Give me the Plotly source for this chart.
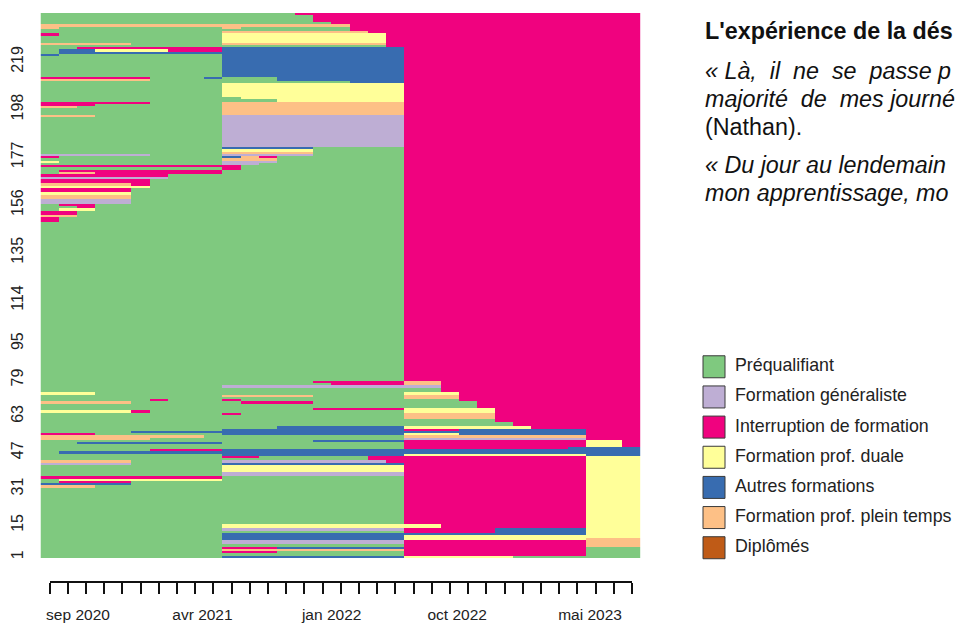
import plotly.graph_objects as go

W, H = 955, 623

STATE_CODES = ["G", "L", "I", "Y", "B", "O", "D"]
STATE_LABELS = ["Préqualifiant", "Formation généraliste", "Interruption de formation",
                "Formation prof. duale", "Autres formations",
                "Formation prof. plein temps", "Diplômés"]
STATE_COLORS = ["#7FC97F", "#BEAED4", "#F0027F", "#FFFF99", "#386CB0", "#FDC086", "#BF5B17"]

Y_TICKS = [1, 15, 31, 47, 63, 79, 95, 114, 135, 156, 177, 198, 219]
MONTH_LABELS = ["sep 2020", "avr 2021", "jan 2022", "oct 2022", "mai 2023"]
MONTH_LABEL_POS = [1.56, 8.4, 15.5, 22.4, 29.7]
N_MONTHS = 33
MONTH_TICKS = list(range(N_MONTHS))

# sequences from the top of the plot to the bottom: (number of identical rows, state runs)
SEQUENCES = [
    (1, "G14 I19"), (3, "G15 I18"), (1, "G16 I17"), (1, "O17 I16"), (1, "O1 G9 O1 G6 I16"),
    (1, "G17 I16"), (1, "G10 O8 I15"), (1, "I1 G9 Y9 I14"), (3, "G10 Y9 I14"),
    (1, "O5 G5 O9 I14"), (1, "G19 I14"), (1, "G2 I8 B10 I13"), (1, "G1 B2 Y4 I3 B10 I13"),
    (1, "G1 B19 I13"), (1, "B1 G9 B10 I13"), (9, "G10 B10 I13"), (1, "I6 G3 B1 G3 B7 I13"),
    (1, "O6 G7 B7 I13"), (1, "G17 B3 I13"), (6, "G10 Y10 I13"), (1, "G11 Y9 I13"),
    (1, "G13 Y7 I13"), (1, "I6 G4 O10 I13"), (1, "I3 G7 O10 I13"), (1, "O2 G8 O10 I13"),
    (3, "G10 O10 I13"), (1, "O3 G7 L10 I13"), (13, "G10 L10 I13"), (1, "G10 B5 G5 I13"),
    (1, "G10 Y5 G5 I13"), (1, "G10 O5 G5 I13"), (1, "L6 G4 L5 G5 I13"),
    (1, "I1 G9 B1 O1 I1 G7 I13"), (1, "G10 O3 G7 I13"), (1, "Y1 G9 L3 G7 I13"),
    (1, "G10 L2 G8 I13"), (1, "I11 G9 I13"), (1, "G10 I1 G9 I13"), (1, "G1 I9 G10 I13"),
    (1, "G1 O2 I7 G10 I13"), (1, "I7 G13 I13"), (1, "L7 G13 I13"), (2, "I6 G14 I13"),
    (1, "O5 I1 G14 I13"), (1, "Y6 G14 I13"), (2, "I5 G15 I13"), (1, "Y5 G15 I13"),
    (2, "O5 G15 I13"), (2, "L5 G15 I13"), (1, "G1 I2 G17 I13"), (1, "G2 I1 G17 I13"),
    (1, "G1 Y2 G17 I13"), (2, "I2 G18 I13"), (1, "O2 G18 I13"), (2, "I1 G19 I13"),
    (70, "G20 I13"),
    (1, "G15 I5 O2 I11"), (1, "G16 I4 O2 I11"), (1, "G10 L12 I11"), (2, "G22 I11"),
    (1, "Y3 G17 Y3 I10"), (1, "G10 O5 G5 O3 I10"), (1, "G20 O3 I10"),
    (1, "G6 I1 G3 I1 G12 I10"), (1, "O5 G6 I4 G9 I9"), (2, "G24 I9"), (1, "G15 I5 Y5 I8"),
    (1, "Y5 I1 G14 Y5 I8"), (1, "G10 I1 G9 O5 I8"), (2, "G20 O5 I8"), (1, "G25 I8"),
    (2, "G26 I7"), (1, "G13 B7 Y7 I6"), (1, "G10 B10 I3 B7 I3"), (1, "G5 B25 I3"),
    (1, "I3 G7 B10 Y3 B7 I3"), (1, "O9 G11 O10 I3"), (1, "O6 G14 L10 I3"),
    (1, "G15 B5 I10 Y2 I1"), (1, "G2 B8 G10 I10 Y2 I1"), (1, "G20 I10 Y2 I1"),
    (1, "G20 I9 B4"), (1, "G6 I4 B23"), (1, "G1 B32"), (1, "G10 B10 Y10 B3"),
    (1, "G10 I2 G6 I12 Y3"), (1, "G18 I12 Y3"), (1, "O5 G5 L9 I11 Y3"),
    (1, "L5 G5 B10 I10 Y3"), (3, "G10 Y10 I10 Y3"), (2, "G10 L10 I10 Y3"),
    (1, "I10 G10 I10 Y3"), (1, "G1 Y9 G10 I10 Y3"), (1, "G1 I4 G15 I10 Y3"),
    (1, "B5 G15 I10 Y3"), (1, "O3 G17 I10 Y3"), (16, "G20 I10 Y3"),
    (2, "G10 Y12 I8 Y3"), (1, "G10 L10 I5 B5 Y3"), (1, "G20 I5 B5 Y3"),
    (1, "G10 B20 Y3"), (1, "G10 B10 Y13"), (1, "G10 B10 Y10 O3"), (2, "G10 L10 I10 O3"),
    (1, "G20 I10 O3"), (1, "G10 I3 B7 I10 G3"), (1, "G10 O10 I10 G3"),
    (1, "G10 I3 G7 I10 G3"), (1, "G20 I10 G3"), (1, "G10 B10 Y6 G7"),
]

TEXT_LINES = [
    ("L'expérience de la dés", True),
    ("« Là,\u00a0 il\u00a0 ne\u00a0 se\u00a0 passe p", False),
    ("majorité\u00a0 de\u00a0 mes journé", False),
    ("(Nathan).", False),
    ("« Du jour au lendemain", False),
    ("mon apprentissage, mo", False),
]


def px(v):
    return v / W


def py(v):
    return 1 - v / H


rows_top_down = []
for count, spec in SEQUENCES:
    row = []
    for run in spec.split():
        row += [STATE_CODES.index(run[0])] * int(run[1:])
    assert len(row) == N_MONTHS, spec
    rows_top_down += [row] * count
assert len(rows_top_down) == 240, len(rows_top_down)
z = rows_top_down[::-1]
row_ids = list(range(1, len(z) + 1))

n = len(STATE_COLORS)
colorscale = []
for i, c in enumerate(STATE_COLORS):
    colorscale += [[i / n, c], [(i + 1) / n, c]]

sans = "Liberation Sans"

fig = go.Figure()
fig.add_trace(go.Heatmap(z=z, x=MONTH_TICKS, y=row_ids, zmin=0, zmax=n,
                         colorscale=colorscale, showscale=False,
                         xgap=0, ygap=0, hoverinfo="skip"))

# invisible carriers that keep the two lower time axes drawn
fig.add_trace(go.Scatter(x=MONTH_TICKS, y=[0] * N_MONTHS, mode="markers", xaxis="x2", yaxis="y2",
                         marker=dict(opacity=0), hoverinfo="skip", showlegend=False))
fig.add_trace(go.Scatter(x=MONTH_LABEL_POS, y=[0] * len(MONTH_LABEL_POS), mode="markers",
                         xaxis="x3", yaxis="y3", marker=dict(opacity=0),
                         hoverinfo="skip", showlegend=False))

# legend drawn as a small scatter panel (x axis of this panel counts pixels from its left edge)
fig.add_trace(go.Scatter(
    x=[11] * n, y=list(range(n)), mode="markers", xaxis="x4", yaxis="y4",
    marker=dict(symbol="square", size=22, color=STATE_COLORS,
                line=dict(color="#3a3a3a", width=1)),
    hoverinfo="skip", cliponaxis=False, showlegend=False))
fig.add_trace(go.Scatter(
    x=[32] * n, y=list(range(n)), mode="text", xaxis="x4", yaxis="y4",
    text=STATE_LABELS, textposition="middle right",
    textfont=dict(family=sans, size=17.8, color="#222222"),
    hoverinfo="skip", cliponaxis=False, showlegend=False))

fig.update_layout(
    template="none",
    width=W, height=H, autosize=False, margin=dict(l=0, r=0, t=0, b=0, autoexpand=False),
    paper_bgcolor="white", plot_bgcolor="white", showlegend=False,
    xaxis=dict(domain=[px(40.5), px(640.4)], range=[-0.5, 32.5], showgrid=False,
               zeroline=False, showticklabels=False, ticks="", anchor="y"),
    yaxis=dict(domain=[py(558.3), py(13)], range=[0.5, 240.5], showgrid=False,
               zeroline=False, tickmode="array", tickvals=Y_TICKS,
               ticktext=[str(t) for t in Y_TICKS], tickangle=-90, ticks="",
               ticklabelstandoff=13,
               tickfont=dict(family=sans, size=16, color="#222222"), anchor="x"),
    xaxis2=dict(domain=[px(49.6), px(631.9)], range=[0, 32], anchor="y2", showgrid=False,
                zeroline=False, tickmode="array", tickvals=MONTH_TICKS,
                showticklabels=False, ticks="outside", ticklen=11, tickwidth=1.6,
                tickcolor="#111111", showline=True, linecolor="#111111", linewidth=1.6),
    yaxis2=dict(domain=[py(581), py(577)], visible=False, anchor="x2"),
    xaxis3=dict(domain=[px(49.6), px(631.9)], range=[0, 32], anchor="y3", showgrid=False,
                zeroline=False, tickmode="array", tickvals=MONTH_LABEL_POS,
                ticktext=MONTH_LABELS, ticks="", showline=False,
                tickfont=dict(family=sans, size=15.5, color="#222222")),
    yaxis3=dict(domain=[py(603), py(599)], visible=False, anchor="x3"),
    xaxis4=dict(domain=[px(703), px(955)], range=[0, 252], visible=False, anchor="y4"),
    yaxis4=dict(domain=[py(562.8), py(351.7)], range=[6.5, -0.5], visible=False, anchor="x4"),
)

LINE_Y = [31, 71.5, 99.5, 127, 165, 193]
for (txt, bold), yy in zip(TEXT_LINES, LINE_Y):
    fig.add_annotation(
        x=px(703), y=py(yy), xref="paper", yref="paper", xanchor="left", yanchor="middle",
        showarrow=False, align="left",
        text=f"<b>{txt}</b>" if bold else (f"<i>{txt}</i>" if txt != "(Nathan)." else txt),
        font=dict(family=sans, size=23.3, color="#111111"))

fig.write_html("out.html", config={"displayModeBar": False},
               post_script="document.body.style.margin='0';document.body.style.overflow='hidden';")
